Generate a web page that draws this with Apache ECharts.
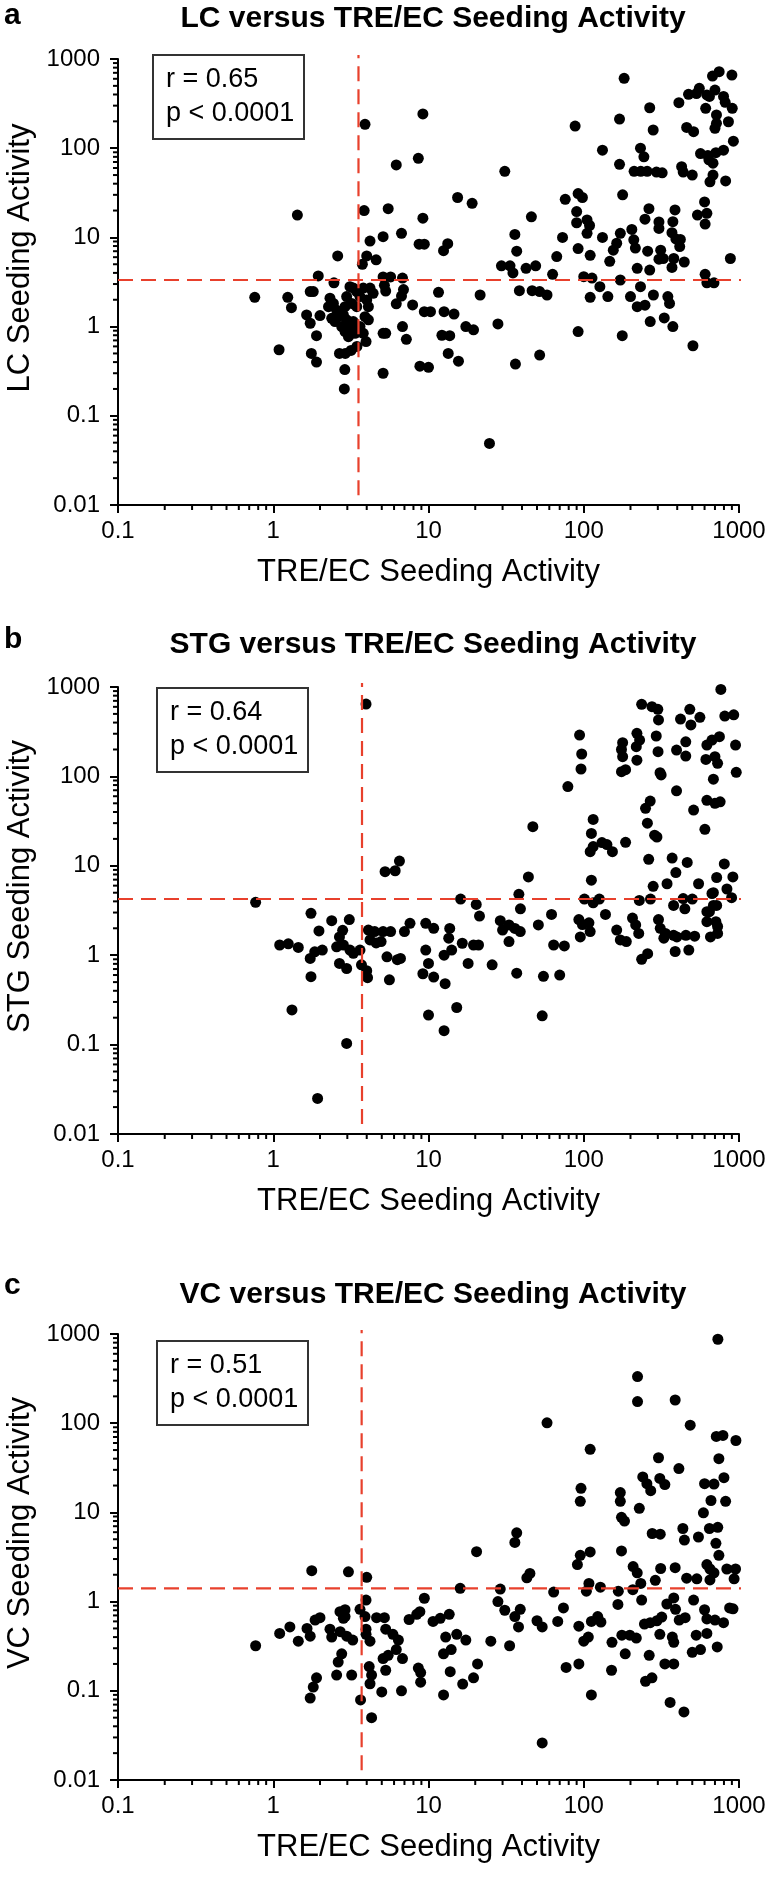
<!DOCTYPE html>
<html><head><meta charset="utf-8">
<script src="https://cdn.jsdelivr.net/npm/echarts@6/dist/echarts.min.js"></script>
<style>html,body{margin:0;padding:0;background:#fff}#c{width:774px;height:1883px}</style>
</head><body><div id="c"></div>
<script>
const panelLetters = ['a','b','c'];
const panelTitles = ['LC versus TRE/EC Seeding Activity','STG versus TRE/EC Seeding Activity','VC versus TRE/EC Seeding Activity'];
const yNames = ['LC Seeding Activity','STG Seeding Activity','VC Seeding Activity'];
const xName = 'TRE/EC Seeding Activity';
const rValues = ['0.65','0.64','0.51'];
const pText = 'p < 0.0001';
const xTickLabels = ['0.1','1','10','100','1000'];
const yTickLabels = ['0.01','0.1','1','10','100','1000'];
const xCutoffs = [3.54, 3.73, 3.71];
const yCutoffs = [3.33, 4.25, 1.41];

const lcPoints = [
[9.2,242],[3.9,185],[8.6,77],[6.2,65],[15.4,28],[1.43,17.8],[3.85,20],[5.5,21],[9.2,16.4],
[4.2,9.1],[5.1,10.2],[6.7,11.1],[8.7,8.4],[9.4,8.4],[12.5,7.1],[13.3,8.5],
[2.6,6.2],[4.0,6.2],[4.6,5.6],[3.75,5.0],
[1.95,3.7],[5.1,3.6],[5.7,3.6],[6.8,3.5],[2.46,3.1],
[0.76,2.13],[1.24,2.13],[1.31,1.63],[1.73,2.47],[1.81,2.47],[1.64,1.35],[1.73,1.09],[2.0,1.33],[1.9,0.79],[1.09,0.55],[1.76,0.5],[1.9,0.4],
[2.87,0.2],[2.89,0.33],[2.67,0.5],[2.91,0.5],[3.17,0.54],[3.46,0.6],[3.96,0.68],[5.1,0.84],[5.3,0.84],[5.1,0.3],[7.2,0.72],[6.8,1.0],[7.9,1.75],[6.2,1.8],[6.7,2.2],[6.9,2.6],[5.3,2.5],[5.2,2.9],
[8.8,0.36],[10.0,0.35],[9.4,1.47],[10.3,1.47],[11.6,2.42],[12.6,1.47],[14.6,1.38],[12.2,0.8],[13.7,0.79],[13.4,0.5],[15.6,0.41],
[2.32,2.08],[2.44,1.82],[2.27,1.67],[2.56,1.53],[2.38,1.24],[2.5,1.14],[2.62,1.29],[2.83,1.35],[2.97,1.19],[2.76,1.0],[2.9,0.88],[3.12,1.0],[3.28,1.14],[3.05,0.77],[3.36,0.84],[3.12,2.8],[3.28,2.7],[3.45,2.46],[2.97,2.17],[3.2,1.82],[3.45,1.67],[2.9,1.67],[3.62,2.17],[3.8,2.7],[4.2,2.7],[4.4,2.36],[4.0,1.99],[4.1,1.67],[3.9,1.29],[4.1,1.19],[3.62,1.0],[3.8,0.84],
[19.1,24.1],[21.5,2.26],[17.4,1.0],[19.5,0.92],[31,55],[24.7,0.049],[46,17],[36,10.8],[37,7.0],[29.5,4.8],[33.5,4.8],[35,4.0],[42.5,4.5],[49,4.8],[38.5,2.53],[46.5,2.53],[52,2.47],[58,2.26],[28,1.07],[36.3,0.38],[52,0.48],[63,3.86],[67,6.1],[73,10],[76,26.7],[88,177],[92,31],[98,28],[90,19.5],[90,14.6],[105,15.7],[109,13.6],[105,11.1],[92,7.5],[110,6.3],[100,3.63],[113,3.5],[110,2.13],[92,0.88],[127,2.8],[143,2.17],[132,95],[132,10],[147,5.4],[155,7.2],[163,8.6],[172,11.1],[170,212],[170,66],[182,607],[178,30],[172,3.33],[177,0.79],
[204,12.3],[210,9.4],[215,7.6],[221,4.5],[232,2.8],[200,2.17],[221,1.67],[248,1.74],[211,55],[233,55],[256,55],[232,100],[244,80],[266,284],[280,160],[294,54],[320,53],[263,21],[248,16],[305,14.9],[305,12.6],[258,7.0],[313,7.2],[305,5.7],[266,4.3],[281,2.26],[268,1.14],[330,1.25],[348,2.17],[357,1.82],[375,1.0],[325,5.8],[387,20.3],[375,15],[370,11.3],[392,9.6],[419,9.5],[415,7.9],[380,5.8],[370,4.6],[444,5.3],
[410,324],[460,171],[510,153],[427,62],[437,54],[500,50],[505,0.61],[473,402],[532,410],[555,469],[675,644],[745,721],[900,660],[621,396],[700,449],[645,380],[795,380],[815,327],[610,280],[716,236],[905,280],[855,198],[700,167],[716,190],[920,120],[795,95],[710,89],[640,74],[565,87],[630,83],[680,68],[680,50],[650,42],[820,43],[600,25],[540,17.8],[621,18.6],[605,14.1],[880,5.8],[605,3.86],[621,3.1],[690,3.1]
];

const stgPoints = [
[3.96,645],[5.25,8.6],[6.1,8.8],[6.5,11.3],[0.77,3.9],[1.75,2.94],[2.38,2.43],[3.09,2.5],[1.97,1.87],[2.8,1.9],[2.67,1.6],[1.1,1.3],[1.25,1.34],[1.45,1.22],[1.73,0.92],[1.85,1.09],[2.07,1.14],[2.56,1.24],[2.83,1.3],[3.12,1.14],[3.28,1.05],[3.62,1.14],[2.67,0.81],[2.97,0.71],[1.75,0.575],[3.7,0.78],[4.0,0.67],[4.05,0.56],[4.1,1.91],[4.5,1.84],[5.1,1.84],[5.7,1.84],[4.2,1.48],[4.6,1.37],[4.95,1.42],[5.4,0.96],[6.3,0.89],[6.6,0.92],[5.6,0.53],[7.6,2.27],[9.6,2.27],[10.8,2.0],[7.0,1.84],[9.6,1.14],[10.0,0.81],[9.2,0.62],[10.8,0.57],[1.32,0.244],[10.0,0.214],[2.97,0.103],[1.93,0.025],
[764,940],[236,640],[275,603],[300,562],[303,428],[482,562],[420,438],[490,376],[560,458],[810,473],[925,489],[94,290],[97,178],[96,121],[79,77],[178,238],[175,200],[178,166],[175,113],[186,119],[220,303],[229,255],[220,152],[218,215],[293,283],[301,189],[310,110],[315,104],[396,197],[454,244],[454,169],[621,224],[670,255],[748,278],[612,155],[700,166],[728,140],[950,224],[960,111],[684,93],[396,69],[621,54],[700,50],[756,52],[510,42],[268,53],[250,44],[257,30],[286,22],[296,21],[603,25.6],
[115,33],[112,23],[115,16.4],[110,14.4],[131,18.2],[141,17.3],[153,14.4],[186,18.3],[112,6.9],[47,27.4],[44,7.5],[262,11.8],[371,12.2],[464,10.9],[280,5.9],[344,6.3],[392,8.4],[549,6.3],[804,10.5],[718,7.4],[913,7.5],[836,5.5],[684,5.0],[896,4.4],
[16.1,4.25],[20.3,3.7],[21.3,2.74],[38.2,4.8],[39.1,3.3],[101,4.25],[115,3.85],[126,4.25],[228,4.1],[269,4.25],[379,3.6],[437,4.3],[448,3.3],[500,4.25],[670,4.9],[718,3.6],[621,3.07],
[138,2.86],[62,2.86],[51,2.18],[29,2.43],[33,2.18],[30,1.91],[36,1.99],[39,1.84],[33,1.42],
[13.7,1.99],[13.5,1.55],[14.1,1.14],[12.6,1.0],[16.5,1.36],[19.5,1.3],[21,1.3],[18,0.81],[25.7,0.78],[12.8,0.48],[15.2,0.26],[12.6,0.143],
[37,0.63],[55,0.58],[70,0.6],[54,0.21],[64,1.3],[75,1.27],[93,2.5],[98,2.2],[108,2.3],[110,1.84],[95,1.6],
[163,1.91],[172,1.48],[188,1.42],[206,2.6],[216,2.18],[226,1.75],[236,0.9],[258,1.04],
[303,2.5],[311,2.0],[336,1.75],[328,1.55],[379,1.67],[388,1.1],[475,1.14],[398,1.6],[455,1.67],[518,1.63],
[621,2.37],[645,3.07],[684,3.6],[710,2.37],[728,2.1],[728,1.75],[655,1.6]
];

const vcPoints = [
[1.77,2.22],[3.05,2.16],[4.0,1.87],[3.96,1.04],[3.62,0.82],[2.9,0.81],[2.69,0.77],[2.9,0.68],[2.83,0.65],[3.9,0.68],[4.63,0.66],[5.2,0.66],[2.0,0.66],[1.86,0.62],[1.65,0.5],[1.73,0.41],[1.45,0.36],[1.28,0.52],[1.1,0.44],[0.77,0.32],[2.32,0.49],[2.38,0.4],[2.7,0.46],[2.97,0.41],[3.25,0.37],[3.96,0.49],[3.96,0.43],[4.2,0.36],[5.3,0.49],[5.9,0.43],[6.4,0.37],[6.2,0.29],[2.76,0.26],[2.62,0.21],[2.56,0.15],[3.2,0.15],[5.1,0.23],[5.5,0.25],[6.8,0.23],[5.3,0.17],[4.15,0.187],[4.3,0.15],[4.2,0.12],[5.0,0.097],[6.7,0.1],[1.9,0.14],[1.81,0.11],[1.73,0.083],[3.65,0.079],[4.3,0.05],[9.4,1.09],[8.8,0.77],[10.7,0.6],[7.5,0.63],[8.4,0.72],[8.6,0.18],[8.9,0.16],[8.9,0.125],
[731,873],[222,333],[222,175],[388,182],[485,95],[58,101],[110,51],[714,71],[788,73],[955,64],[742,40],[303,41],[410,31],[240,25],[255,21],[270,17.5],[309,24],[333,20.5],[800,24.5],[600,21],[690,20.8],[660,13.6],[820,13.3],[590,9.9],[96,18.6],[95,13.3],[172,16.7],[172,13.3],[175,8.8],[183,8.0],[175,3.7],[228,11.1],[276,5.8],[311,5.7],[435,6.6],[445,4.9],[548,5.3],[645,6.6],[730,6.8],[710,4.5],[742,3.3],[37,5.9],[36,4.6],[20.4,3.63],[95,3.3],[110,3.6],[91,2.6],[45,2.07],[43,1.85],[208,2.47],[221,2.1],[233,1.6],[313,2.35],[289,1.73],[388,2.4],[460,1.83],[535,1.8],[621,2.6],[650,2.32],[690,2.1],[650,1.75],[835,2.32],[950,2.32],[930,1.8],
[16.0,1.41],[29,1.38],[64,1.28],[108,1.6],[104,1.31],[128,1.45],[167,1.31],[207,1.36],
[11.9,0.65],[13.6,0.72],[12.9,0.40],[15.2,0.43],[14.0,0.29],[12.5,0.26],[13.8,0.164],[12.5,0.09],[17.4,0.37],[16.6,0.119],[20.7,0.2],[19.5,0.14],[25.2,0.36],[33.3,0.32],
[28,1.0],[31,0.8],[36,0.68],[39,0.82],[38,0.52],[50,0.61],[54,0.52],[68,0.6],[74,0.85],[77,0.183],
[93,0.53],[93,0.2],[100,0.36],[107,0.4],[112,0.6],[123,0.68],[129,0.59],[112,0.09],[54,0.026],[166,0.93],[151,0.17],[152,0.35],[176,0.42],[198,0.42],[218,0.39],[185,0.26],[236,1.04],[246,0.56],[268,0.58],[296,0.61],[318,0.67],[309,0.43],[264,0.25],[250,0.128],[275,0.14],[343,0.94],[380,1.1],[372,0.4],[380,0.35],[380,0.2],[333,0.2],[390,0.82],[450,0.66],[412,0.62],[360,0.074],[442,0.058],[510,1.04],[600,0.81],[621,0.64],[700,0.62],[795,0.58],[530,0.42],[621,0.44],[500,0.27],[565,0.29],[724,0.31],[870,0.85],[915,0.83]
];

const allPoints = [lcPoints, stgPoints, vcPoints];

const FONT = '"Liberation Sans", Arial, Helvetica, sans-serif';
const RED = '#e8402c';
const X_MIN = 0.1, X_MAX = 1000, Y_MIN = 0.01, Y_MAX = 1000;
const gridTops = [59, 687, 1334];
const gridHeights = [446, 447, 446];
const panelTitleTops = [2, 628, 1278];
const letterTops = [0, 624, 1270];
const boxTops = [55, 688, 1341];
const boxLefts = [153, 157, 157];

// minor tick positions of a base-10 log axis (2..9 in every decade)
function minorValues(minExp, maxExp) {
  const out = [];
  for (let e = minExp; e < maxExp; e++) {
    for (let m = 2; m <= 9; m++) out.push(+(m * Math.pow(10, e)).toPrecision(6));
  }
  return out;
}
const xMinor = minorValues(-1, 3);
const yMinor = minorValues(-2, 3);

function tickFmt(labels, minExp) {
  return function (v) {
    const k = Math.round(Math.log10(v)) - minExp;
    return labels[k] !== undefined ? labels[k] : '';
  };
}

const option = {
  animation: false,
  backgroundColor: '#ffffff',
  textStyle: { fontFamily: FONT },
  title: [], grid: [], xAxis: [], yAxis: [], series: []
};

const MINOR_LEN = 5;
function xMinorTick(params, api) {
  const p = api.coord([api.value(0), Y_MIN]);
  return { type: 'line', shape: { x1: p[0], y1: p[1], x2: p[0], y2: p[1] + MINOR_LEN }, style: { stroke: '#000', lineWidth: 2 } };
}
function yMinorTick(params, api) {
  const p = api.coord([X_MIN, api.value(1)]);
  return { type: 'line', shape: { x1: p[0], y1: p[1], x2: p[0] - MINOR_LEN, y2: p[1] }, style: { stroke: '#000', lineWidth: 2 } };
}

for (let i = 0; i < 3; i++) {
  option.grid.push({ left: 118, top: gridTops[i], width: 621, height: gridHeights[i], containLabel: false, outerBoundsMode: 'none' });
  option.xAxis.push({
    type: 'log', logBase: 10, min: X_MIN, max: X_MAX, gridIndex: i, position: 'bottom',
    axisLine: { show: true, lineStyle: { color: '#000', width: 2 } },
    axisTick: { show: true, inside: false, length: 8, lineStyle: { color: '#000', width: 2 } },
    minorTick: { show: false },
    splitLine: { show: false }, minorSplitLine: { show: false },
    axisLabel: { show: true, fontSize: 24, color: '#000', margin: 14, fontFamily: FONT, formatter: tickFmt(xTickLabels, -1) },
    name: xName, nameLocation: 'middle', nameGap: 52,
    nameTextStyle: { fontSize: 31, color: '#000', fontFamily: FONT }
  });
  option.yAxis.push({
    type: 'log', logBase: 10, min: Y_MIN, max: Y_MAX, gridIndex: i, position: 'left',
    axisLine: { show: true, lineStyle: { color: '#000', width: 2 } },
    axisTick: { show: true, inside: false, length: 8, lineStyle: { color: '#000', width: 2 } },
    minorTick: { show: false },
    splitLine: { show: false }, minorSplitLine: { show: false },
    axisLabel: { show: true, fontSize: 24, color: '#000', margin: 18, fontFamily: FONT, formatter: tickFmt(yTickLabels, -2) },
    name: yNames[i], nameLocation: 'middle', nameGap: 78,
    nameTextStyle: { fontSize: 31, color: '#000', fontFamily: FONT, padding: [0, 0, 0, 48] }
  });
  option.series.push({
    type: 'scatter', xAxisIndex: i, yAxisIndex: i, data: allPoints[i],
    symbol: 'circle', symbolSize: 11, itemStyle: { color: '#000', opacity: 1 }, z: 2, silent: true
  });
  option.series.push({
    type: 'line', xAxisIndex: i, yAxisIndex: i, data: [[xCutoffs[i], 0.0129], [xCutoffs[i], 1110]],
    symbol: 'none', clip: false, silent: true, z: 3,
    lineStyle: { color: RED, width: 2.2, type: [15, 8] }
  });
  option.series.push({
    type: 'line', xAxisIndex: i, yAxisIndex: i, data: [[X_MIN, yCutoffs[i]], [1127, yCutoffs[i]]],
    symbol: 'none', clip: false, silent: true, z: 3,
    lineStyle: { color: RED, width: 2.2, type: [15, 8] }
  });
  // minor ticks of the log axes, placed through the axes' own scales
  option.series.push({
    type: 'custom', xAxisIndex: i, yAxisIndex: i, clip: false, silent: true, z: 5,
    data: xMinor.map(v => [v, Y_MIN]), renderItem: xMinorTick
  });
  option.series.push({
    type: 'custom', xAxisIndex: i, yAxisIndex: i, clip: false, silent: true, z: 5,
    data: yMinor.map(v => [X_MIN, v]), renderItem: yMinorTick
  });
  option.title.push({
    text: panelTitles[i], left: 433, top: panelTitleTops[i], textAlign: 'center', padding: 0,
    textStyle: { fontSize: 30, fontWeight: 'bold', color: '#000', fontFamily: FONT, lineHeight: 34 }
  });
  option.title.push({
    text: panelLetters[i], left: 4, top: letterTops[i], padding: 0,
    textStyle: { fontSize: 30, fontWeight: 'bold', color: '#000', fontFamily: FONT, lineHeight: 32 }
  });
  option.title.push({
    text: 'r = ' + rValues[i] + '\n' + pText, left: boxLefts[i], top: boxTops[i],
    padding: [8, 10, 8, 13], borderColor: '#333', borderWidth: 2,
    textStyle: { fontSize: 27, fontWeight: 'normal', color: '#000', fontFamily: FONT, lineHeight: 34 }
  });
}

const chart = echarts.init(document.getElementById('c'), null, { renderer: 'canvas' });
chart.setOption(option);
</script>
</body></html>
